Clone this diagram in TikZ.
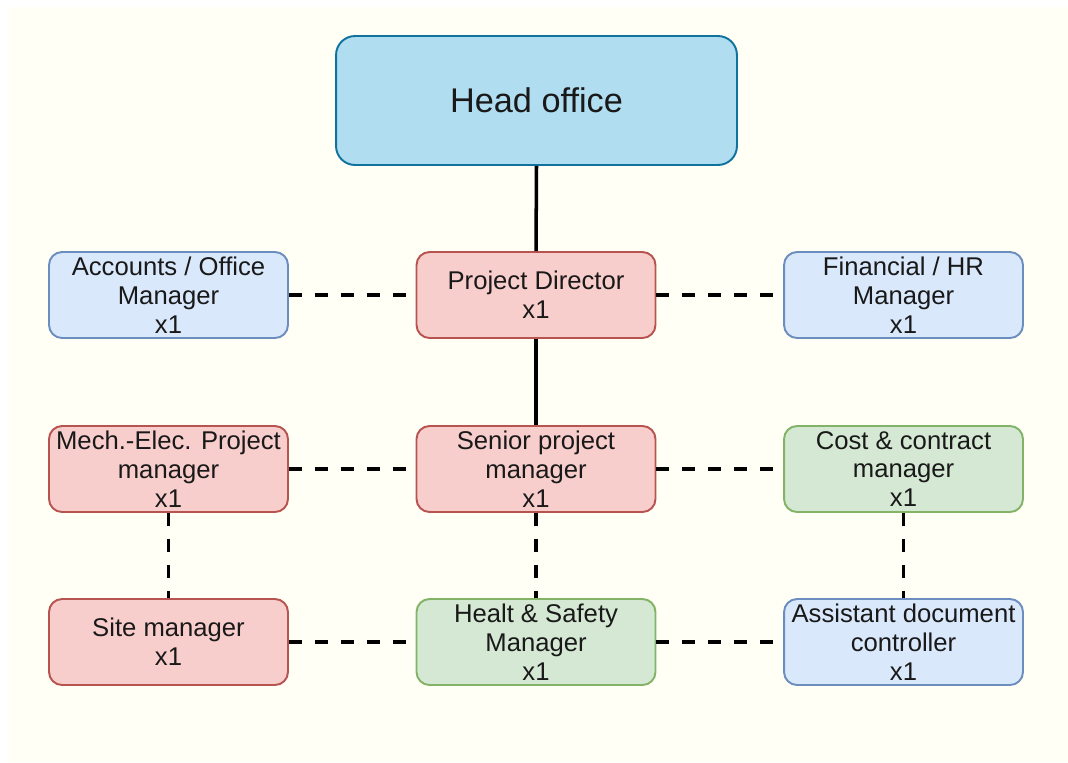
\documentclass[tikz,border=0pt]{standalone}
\usepackage{fontspec}
\setmainfont{Liberation Sans}
\usepackage{tikz}
\usetikzlibrary{positioning, calc, shapes.misc}
\definecolor{canvascol}{HTML}{FFFFF5}
\definecolor{headfill}{HTML}{B1DDF0}
\definecolor{headline}{HTML}{10739E}
\definecolor{bluefill}{HTML}{DAE8FC}
\definecolor{blueline}{HTML}{6C8EBF}
\definecolor{redfill}{HTML}{F8CECC}
\definecolor{redline}{HTML}{B85450}
\definecolor{greenfill}{HTML}{D5E8D4}
\definecolor{greenline}{HTML}{82B366}
\tikzset{
	rolebox/.style={rectangle, rounded corners=0.26cm, line width=1.1pt,
		minimum width=4.78cm, minimum height=1.72cm, inner sep=0pt,
		align=center, text=black!90, font=\fontsize{14.6}{16.4}\selectfont}
}
\tikzset{
	headbox/.style={rolebox, rounded corners=0.38cm, fill=headfill, draw=headline,
		minimum width=8.02cm, minimum height=2.58cm, font=\fontsize{19.5}{23}\selectfont},
	bluebox/.style={rolebox, fill=bluefill, draw=blueline},
	redbox/.style={rolebox, fill=redfill, draw=redline},
	greenbox/.style={rolebox, fill=greenfill, draw=greenline}
}
\tikzset{
	solidlink/.style={line width=2pt},
	dashlink/.style={line width=2pt, dash pattern=on 7.4pt off 7.4pt}
}

\begin{document}
\begin{tikzpicture}[x=0.02cm, y=-0.02cm]
      \useasboundingbox (0,0) rectangle (1068,762);
      \fill[white] (0,0) rectangle (1068,762);
      \fill[canvascol] (9,7) rectangle (1068,762);
      % head office and director line
      \node[headbox] (head) at (536.5,100.5) {Head office};
      \node[redbox] (director) at (536,295) {Project Director\\x1};
      \node[bluebox] (accounts) at (168.5,295) {Accounts / Office\\Manager\\x1};
      \node[bluebox] (finance) at (903.5,295) {Financial / HR\\Manager\\x1};
      % managers
      \node[redbox] (senior) at (536,469) {Senior project\\manager\\x1};
      \node[redbox] (mechelec) at (168.5,469) {Mech.-Elec. Project\\manager\\x1};
      \node[greenbox] (cost) at (903.5,469) {Cost \& contract\\manager\\x1};
      % site level
      \node[redbox] (site) at (168.5,642) {Site manager\\x1};
      \node[greenbox] (safety) at (536,642) {Healt \& Safety\\Manager\\x1};
      \node[bluebox] (docctrl) at (903.5,642) {Assistant document\\controller\\x1};
      % connectors
      \draw[solidlink] (head.south) -- (director.north);
      \draw[solidlink] (director.south) -- (senior.north);
      \draw[dashlink] (accounts.east) -- (director.west);
      \draw[dashlink] (director.east) -- (finance.west);
      \draw[dashlink] (mechelec.east) -- (senior.west);
      \draw[dashlink] (senior.east) -- (cost.west);
      \draw[dashlink] (site.east) -- (safety.west);
      \draw[dashlink] (safety.east) -- (docctrl.west);
      \draw[dashlink] (mechelec.south) -- (site.north);
      \draw[dashlink] (senior.south) -- (safety.north);
      \draw[dashlink] (cost.south) -- (docctrl.north);
    \end{tikzpicture}
\end{document}
